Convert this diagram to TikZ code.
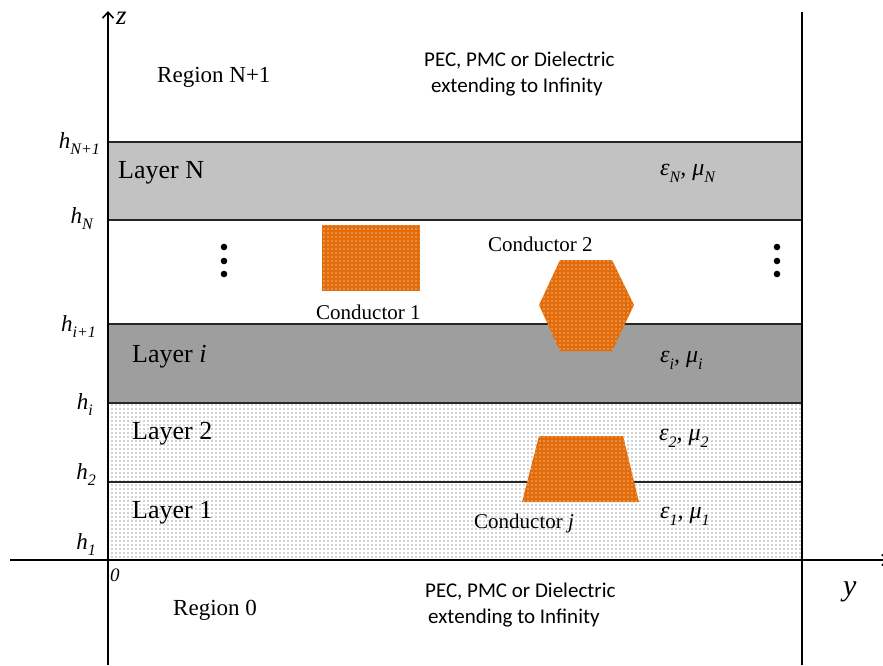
\documentclass[tikz,border=0pt]{standalone}
\usepackage{fontspec}
\setmainfont{Liberation Serif}
\newfontfamily\calfont{Carlito}
\usetikzlibrary{patterns,patterns.meta,arrows.meta}
\definecolor{condorange}{HTML}{E36C0A}
\tikzdeclarepattern{
  name=sparsedots, type=uncolored,
  bottom left={(-1pt,-1pt)}, top right={(3pt,3pt)}, tile size={(4pt,4pt)},
  code={\fill (0pt,0pt) circle (0.55pt);}
}
\newcommand\mysub[1]{\raisebox{-0.3em}{\fontsize{16}{16}\selectfont\itshape #1}}
\begin{document}
\begin{tikzpicture}[x=1pt,y=-1pt,
  every node/.style={inner sep=0pt},
  axisline/.style={line width=2pt,black},
  boundline/.style={line width=1.4pt,black!85},
  layerN/.style={fill=black!24},
  layerI/.style={fill=black!38},
  layerdots/.style={pattern=sparsedots,pattern color=black!75},
  cond/.style={fill=condorange,postaction={pattern=sparsedots,pattern color=white}},
  reg/.style={anchor=base west,font=\fontsize{23}{27}\selectfont},
  lay/.style={anchor=base west,font=\fontsize{26}{30}\selectfont},
  pec/.style={anchor=base west,font=\calfont\fontsize{21}{25}\selectfont},
  hl/.style={anchor=base east,font=\fontsize{23}{27}\selectfont\itshape},
  eps/.style={anchor=base west,font=\fontsize{24}{28}\selectfont\itshape},
  cl/.style={anchor=base west,font=\fontsize{21}{25}\selectfont},
  dotc/.style={circle,fill=black,minimum size=6.6pt}
]
\useasboundingbox (0,0) rectangle (883,665);
% layer fills
\fill[layerN] (108,142) rectangle (802,220);
\fill[layerI] (108,324) rectangle (802,403);
\fill[layerdots] (108,403) rectangle (802,560);
% boundaries
\draw[boundline] (108,142) -- (802,142);
\draw[boundline] (108,220) -- (802,220);
\draw[boundline] (108,324) -- (802,324);
\draw[boundline] (108,403) -- (802,403);
\draw[boundline] (108,482) -- (802,482);
% axes
\coordinate (zbot) at (108,665);
\coordinate (ztop) at (108,11);
\coordinate (yl) at (10,560);
\coordinate (yr) at (889,560);
\coordinate (rtop) at (802,12);
\coordinate (rbot) at (802,665);
\draw[axisline,-{Straight Barb[length=6pt,width=11pt,line width=1.6pt]}] (zbot) -- (ztop);
\draw[axisline,-{Straight Barb[length=6pt,width=11pt,line width=1.6pt]}] (yl) -- (yr);
\draw[axisline] (rtop) -- (rbot);
% conductors
\path[cond] (322,225) rectangle (420,291);
\path[cond] (560,260) -- (612,260) -- (634,305) -- (612,351) -- (560,351) -- (539,305) -- cycle;
\path[cond] (539,436) -- (623,436) -- (639,502) -- (522,502) -- cycle;
% texts
\node[font=\fontsize{27}{30}\selectfont\itshape,anchor=base west] (zl) at (116,24) {z};
\node[font=\fontsize{19}{22}\selectfont\itshape,anchor=base west] (zero) at (110,581) {0};
\node[font=\fontsize{30}{34}\selectfont\itshape,anchor=base west] (yl2) at (843,595) {y};
\node[reg] (rN) at (157,82) {Region N+1};
\node[reg] (r0) at (173,615) {Region 0};
\node[pec] (pt1) at (424,66) {PEC, PMC or Dielectric};
\node[pec] (pt2) at (431,92) {extending to Infinity};
\node[pec] (pb1) at (425,597) {PEC, PMC or Dielectric};
\node[pec] (pb2) at (428,623) {extending to Infinity};
\node[lay] (lN) at (118,178) {Layer N};
\node[lay] (li) at (132,362) {Layer \textit{i}};
\node[lay] (l2) at (132,439) {Layer 2};
\node[lay] (l1) at (132,518) {Layer 1};
\node[hl] (hN1) at (100,148) {h\mysub{N+1}};
\node[hl] (hN) at (93,223) {h\mysub{N}};
\node[hl] (hi1) at (96,331) {h\mysub{i+1}};
\node[hl] (hi) at (93,409) {h\mysub{i}};
\node[hl] (h2) at (96,479) {h\mysub{2}};
\node[hl] (h1) at (96,549) {h\mysub{1}};
\node[eps] (eN) at (660,175) {ε\mysub{N}, μ\mysub{N}};
\node[eps] (ei) at (660,362) {ε\mysub{i}, μ\mysub{i}};
\node[eps] (e2) at (659,440) {ε\mysub{2}, μ\mysub{2}};
\node[eps] (e1) at (660,518) {ε\mysub{1}, μ\mysub{1}};
\node[cl] (c1) at (316,319) {Conductor 1};
\node[cl] (c2) at (488,251) {Conductor 2};
\node[cl] (cj) at (474,528) {Conductor \textit{j}};
% ellipsis dots
\node[dotc] (dl1) at (224,247) {};
\node[dotc] (dl2) at (224,261) {};
\node[dotc] (dl3) at (224,274) {};
\node[dotc] (dr1) at (777,247) {};
\node[dotc] (dr2) at (777,261) {};
\node[dotc] (dr3) at (777,274) {};
\end{tikzpicture}
\end{document}
